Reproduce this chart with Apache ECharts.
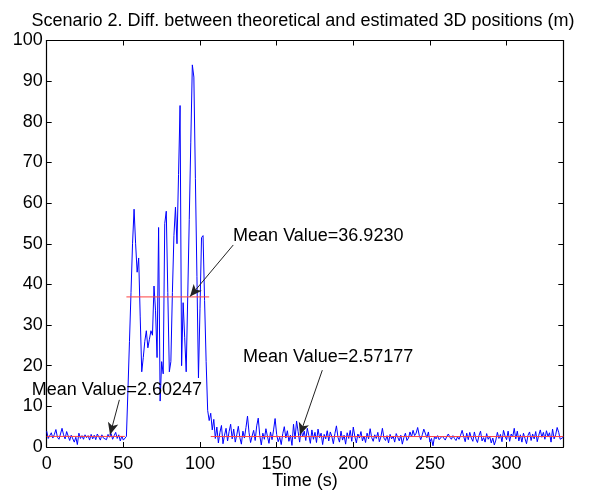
<!DOCTYPE html>
<html><head><meta charset="utf-8">
<script src="https://cdn.jsdelivr.net/npm/echarts@6/dist/echarts.min.js"></script>
<style>html,body{margin:0;padding:0;background:#fff}#c{width:594px;height:493px}</style>
</head><body><div id="c"></div>
<script>
// Time axis: one sample per second, t = 0 .. 337
const lowStart = [3.9, 2.1, 1.8, 3.5, 2.2, 3.1, 4.3, 2.4, 1.9, 3.2, 4.6, 3.0, 2.0, 3.8, 2.7, 1.6, 2.9, 3.3, 1.2, 2.4, 0.6, 3.4, 2.1, 2.8, 1.9, 3.0, 2.3, 2.8, 1.7, 3.1, 2.0, 2.9, 1.8, 3.2, 2.5, 1.7, 3.0, 2.2, 2.6, 1.8, 3.1, 2.4, 3.3, 1.9, 2.8, 3.6, 2.1, 3.0, 1.5, 2.7, 1.7, 2.0];
const highPart = [2.6, 14, 26, 38, 50, 58.5, 50, 43, 46.5, 32, 18.5, 22, 26, 28.6, 24.4, 26.5, 28.6, 27.5, 39.6, 33.5, 22, 54, 11.3, 21, 18, 55, 58, 38, 18.5, 21, 38, 52, 59, 50, 67, 84, 20, 35.5, 27, 18.5, 37, 56, 75, 94, 91, 66, 42, 17, 34, 51.5, 52, 36, 21, 9, 6.5];
const lowEnd = [
 8.3, 4.2, 6.8, 2.1, 4.9, 1.0, 3.6, 5.3, 0.8, 2.9,
 4.6, 1.5, 3.8, 5.6, 2.0, 4.4, 1.2, 3.0, 5.1, 2.3,
 0.7, 3.9, 2.2, 4.8, 7.6, 3.5, 1.1, 2.7, 4.1, 1.6,
 5.2, 7.1, 2.8, 0.5, 3.4, 1.9, 4.5, 2.6, 0.9, 3.7,
 1.8, 4.2, 7.0, 3.1, 1.3, 2.4, 0.6, 3.3, 5.0, 2.2,
 4.0, 1.4, 2.9, 0.4, 5.6, 2.0, 6.4, 3.8, 1.2, 4.3,
 2.5, 3.9, 1.6, 4.6, 2.8, 0.9, 4.2, 1.9, 3.6, 1.1,
 4.4, 2.3, 3.4, 0.6, 3.1, 2.0, 4.0, 1.5, 3.7, 2.6,
 0.8, 3.3, 5.2, 2.4, 1.2, 3.9, 1.7, 2.9, 0.7, 3.5,
 2.1, 4.1, 1.4, 4.9, 2.6, 1.0, 3.2, 2.2, 3.8, 1.5,
 2.7, 1.1, 3.4, 2.0, 4.5, 2.3, 1.4, 3.0, 2.1, 3.6,
 1.3, 2.5, 4.6, 2.2, 1.6, 2.8, 1.0, 3.1, 2.0, 2.7,
 1.2, 3.3, 2.4, 1.5, 2.9, 0.7, 2.3, 3.4, 1.6, 2.2,
 3.7, 2.5, 4.1, 2.8, 3.4, 4.8, 2.9, 1.8, 3.0, 4.4,
 4.6, 2.3, 3.7, 1.2, 2.1, 0.3, 2.6, 2.0, 2.8, 1.8,
 1.5, 2.7, 2.3, 1.7, 2.6, 3.2, 2.4, 1.9, 2.8, 2.1,
 1.6, 2.5, 1.9, 2.9, 4.1, 2.6, 1.3, 3.4, 1.8, 3.6,
 2.2, 1.4, 3.7, 2.0, 1.1, 2.8, 3.9, 1.5, 2.3, 1.2,
 3.3, 1.9, 2.6, 1.0, 2.2, 0.5, 1.7, 3.6, 2.1, 3.1,
 1.3, 4.1, 2.7, 1.8, 3.9, 1.4, 3.2, 2.5, 4.6, 2.0,
 3.9, 1.5, 3.0, 1.2, 3.4, 2.1, 0.8, 2.9, 3.7, 1.6,
 3.2, 2.0, 3.8, 1.3, 2.9, 4.2, 2.4, 3.6, 1.9, 4.0,
 2.6, 3.5, 1.2, 4.4, 2.0, 3.0, 4.8, 3.6, 1.9, 2.2,
 2.4];

// Mean value segments (start time, end time, mean)
const meanStarts = [0, 52, 107];
const meanEnds = [51, 106, 337];
const meanValues = [2.60247, 36.9230, 2.57177];

// Annotations: text, text anchor, arrow tail, arrow tip (data coords)
const annTexts = ['Mean Value=36.9230', 'Mean Value=2.57177', 'Mean Value=2.60247'];
const annTextPos = [[121.6, 51.9], [128.1, 22.1], [0, 14.0]];
const annTail = [[121.7, 49.7], [179.8, 18.9], [47.4, 11.6]];
const annTip = [[93.5, 37.0], [165.2, 3.0], [41.3, 3.0]];

const xTicks = [0, 50, 100, 150, 200, 250, 300];
const yTicks = [0, 10, 20, 30, 40, 50, 60, 70, 80, 90, 100];

const values = lowStart.concat(highPart, lowEnd);
const lineData = values.map((v, i) => [i, v]);

const FONT = 'Liberation Sans, Arial, Helvetica, sans-serif';
const chart = echarts.init(document.getElementById('c'), null, {renderer: 'canvas'});

const axisCommon = {
  axisLine: {show: true, onZero: false, lineStyle: {color: '#000', width: 1.2}},
  axisTick: {show: true, inside: true, length: 5, lineStyle: {color: '#000', width: 1}},
  splitLine: {show: false}
};

const meanSeries = meanValues.map((m, k) => ({
  type: 'line', xAxisIndex: 0, yAxisIndex: 0, symbol: 'none', silent: true,
  lineStyle: {color: '#ff4040', width: 1},
  data: [[meanStarts[k], m], [meanEnds[k], m]], z: 3
}));

const annSeries = {
  type: 'line', data: [], xAxisIndex: 0, yAxisIndex: 0, silent: true,
  markLine: {
    silent: true, symbol: ['none', 'arrow'], symbolSize: [8, 12],
    lineStyle: {color: '#222', width: 1, type: 'solid'},
    label: {show: false},
    data: annTail.map((t, k) => [{coord: t}, {coord: annTip[k]}])
  },
  markPoint: {
    silent: true, symbol: 'circle', symbolSize: 0,
    data: annTexts.map((txt, k) => ({
      coord: annTextPos[k],
      label: {show: true, formatter: txt, position: 'right', distance: 0,
        offset: k === 2 ? [-15, 0] : [0, 0],
        color: '#000', fontSize: 18, fontFamily: FONT}
    }))
  }, z: 5
};

chart.setOption({
  animation: false,
  backgroundColor: '#fff',
  title: {
    text: 'Scenario 2. Diff. between theoretical and estimated 3D positions (m)',
    left: 298, top: 7, textAlign: 'center',
    textStyle: {fontFamily: FONT, fontSize: 18, fontWeight: 'normal', color: '#000'}
  },
  grid: {left: 46.7, right: 30.7, top: 40.5, bottom: 46, containLabel: false, outerBoundsMode: 'none'},
  xAxis: [
    Object.assign({type: 'value', min: 0, max: 337, interval: 50, position: 'bottom',
      name: 'Time (s)', nameLocation: 'middle', nameGap: 25, nameMoveOverlap: false,
      nameTextStyle: {fontFamily: FONT, fontSize: 18, color: '#000', verticalAlign: 'top'},
      axisLabel: {fontFamily: FONT, fontSize: 18, color: '#000', margin: 8,
        showMaxLabel: false, formatter: v => xTicks.includes(v) ? String(v) : ''}}, axisCommon),
    Object.assign({type: 'value', min: 0, max: 337, interval: 50, position: 'top',
      axisLabel: {show: false}}, axisCommon)
  ],
  yAxis: [
    Object.assign({type: 'value', min: 0, max: 100, interval: 10, position: 'left',
      axisLabel: {fontFamily: FONT, fontSize: 18, color: '#000', margin: 4,
        formatter: v => yTicks.includes(v) ? String(v) : ''}}, axisCommon),
    Object.assign({type: 'value', min: 0, max: 100, interval: 10, position: 'right',
      axisLabel: {show: false}}, axisCommon)
  ],
  series: [
    {type: 'line', data: lineData, symbol: 'none', showSymbol: false,
     lineStyle: {color: '#0000ff', width: 1}, z: 2, silent: true}
  ].concat(meanSeries, [annSeries])
});
</script></body></html>
